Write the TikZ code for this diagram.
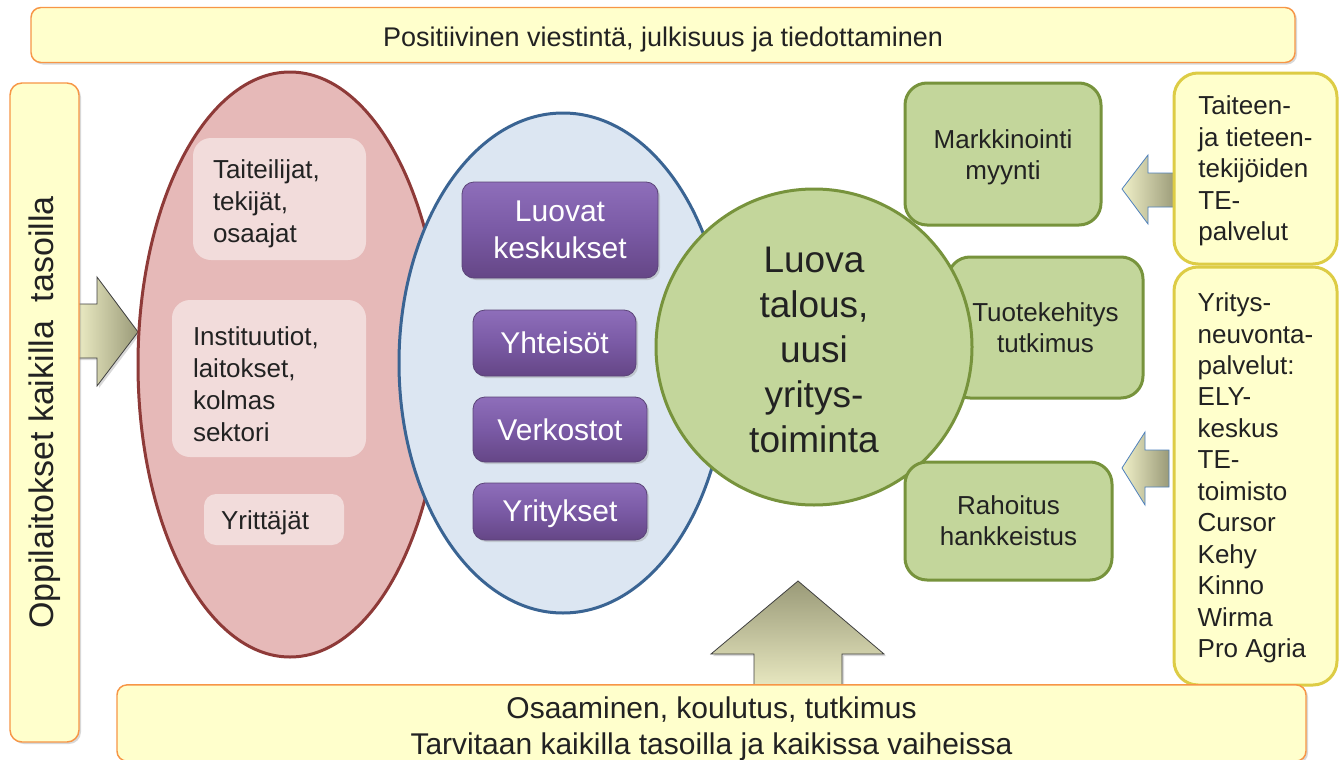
\documentclass[tikz,border=0pt]{standalone}
\usepackage{fontspec}
\setmainfont{Liberation Sans}
\usetikzlibrary{shadows,shapes.geometric}
\definecolor{banfill}{HTML}{FFFFCC}
\definecolor{banedge}{HTML}{F79646}
\definecolor{yedge}{HTML}{DDCC45}
\definecolor{redfill}{HTML}{E6B9B8}
\definecolor{rededge}{HTML}{8E3A38}
\definecolor{pinkfill}{HTML}{F2DCDB}
\definecolor{bluefill}{HTML}{DCE6F2}
\definecolor{blueedge}{HTML}{3A6493}
\definecolor{grfill}{HTML}{C3D69B}
\definecolor{gredge}{HTML}{77933C}
\definecolor{purtop}{HTML}{8E6EBA}
\definecolor{purmid}{HTML}{7A5AA5}
\definecolor{purbot}{HTML}{654686}
\definecolor{puredge}{HTML}{5B4478}
\definecolor{arrlight}{HTML}{F0F0C8}
\definecolor{arrdark}{HTML}{9A9A78}
\definecolor{txt}{HTML}{222222}
\definecolor{arrblue}{HTML}{4F81BD}
\newcommand{\dnstrut}[1]{\rule{0pt}{#1}}
\begin{document}
\begin{tikzpicture}[x=0.75pt,y=-0.75pt,
  shad/.style={drop shadow={shadow xshift=1.5pt,shadow yshift=-1.5pt,opacity=0.3}},
  banner/.style={draw=banedge, line width=1.1pt, fill=banfill, rounded corners=7.5pt, text=txt, shad, inner sep=0pt, align=center},
  pinkbox/.style={fill=pinkfill, rounded corners=13.5pt, text=txt, align=left, font=\fontsize{19.5pt}{24pt}\selectfont, inner ysep=0pt},
  purbox/.style={draw=puredge, line width=0.6pt, top color=purtop, bottom color=purbot, middle color=purmid, rounded corners=9pt, text=white, align=center, font=\fontsize{22.5pt}{27.75pt}\selectfont, shad, inner sep=0pt},
  grbox/.style={draw=gredge, line width=2.25pt, fill=grfill, rounded corners=16.5pt, text=txt, align=center, font=\fontsize{19.5pt}{23.25pt}\selectfont, inner sep=0pt},
  ybox/.style={draw=yedge, line width=2.25pt, fill=banfill, rounded corners=18pt, text=txt, align=left, font=\fontsize{19.5pt}{23.6pt}\selectfont, inner sep=0pt, minimum width=122.25pt},
  blockarrow/.style={shad, line width=0.6pt, draw=black!75},
  sidearrow/.style={line width=0.6pt, draw=arrblue, left color=arrlight, right color=arrdark}
]
\useasboundingbox (0,0) rectangle (1339,760);
\fill[white] (0,0) rectangle (1339,760);

% top banner
\node[banner, minimum width=948pt, minimum height=41.25pt, font=\fontsize{20.25pt}{24pt}\selectfont] (top) at (663,35) {\dnstrut{21pt}Positiivinen viestintä, julkisuus ja tiedottaminen};

% arrow from left banner
\shadedraw[blockarrow, left color=arrlight, right color=arrdark] (74,304) -- (97,304) -- (97,277) -- (138,332) -- (97,386) -- (97,358) -- (74,358) -- cycle;

% left banner
\node[banner, rotate=90, minimum width=494.25pt, minimum height=51.75pt, rounded corners=9pt, font=\fontsize{25.5pt}{30pt}\selectfont] (left) at (44.5,412.5) {Oppilaitokset kaikilla~ tasoilla};

% red ellipse
\node[ellipse, draw=rededge, line width=2.25pt, fill=redfill, minimum width=228pt, minimum height=438.75pt, inner sep=0pt] (red) at (290,364.5) {};
\node[pinkbox, text width=99.75pt, inner xsep=15pt, minimum height=91.5pt] (p1) at (279.5,199) {\dnstrut{22pt}Taiteilijat,\\tekijät,\\osaajat};
\node[pinkbox, text width=114pt, inner xsep=15.75pt, minimum height=117.75pt] (p2) at (269,378.5) {\dnstrut{22pt}Instituutiot,\\laitokset,\\kolmas\\sektori};
\node[pinkbox, text width=79.5pt, inner xsep=12.75pt, minimum height=38.25pt, rounded corners=9pt] (p3) at (274,519.5) {\dnstrut{19pt}Yrittäjät};

% blue ellipse
\node[ellipse, draw=blueedge, line width=2.25pt, fill=bluefill, minimum width=246pt, minimum height=375pt, inner sep=0pt] (blue) at (563,363) {};
\node[purbox, minimum width=147pt, minimum height=72pt] (u1) at (560,230) {Luovat\\keskukset};
\node[purbox, minimum width=122.25pt, minimum height=49.5pt] (u2) at (554.5,343) {Yhteisöt};
\node[purbox, minimum width=130.5pt, minimum height=48.75pt] (u3) at (560,429.5) {Verkostot};
\node[purbox, minimum width=130.5pt, minimum height=42.75pt] (u4) at (560,511.5) {\dnstrut{19pt}Yritykset};

% green boxes and circle
\node[grbox, minimum width=146.25pt, minimum height=105.75pt] (g2) at (1045.5,327.5) {Tuotekehitys\\tutkimus};
\node[circle, draw=gredge, line width=2.25pt, fill=grfill, minimum size=237pt, inner sep=0pt, text=txt, align=center, font=\fontsize{27.75pt}{33.75pt}\selectfont] (luova) at (814,347) {\dnstrut{23pt}Luova\\talous,\\uusi\\yritys-\\toiminta};
\node[grbox, minimum width=147pt, minimum height=106.5pt] (g1) at (1003,154) {\dnstrut{19pt}Markkinointi\\myynti};
\node[grbox, minimum width=155.25pt, minimum height=88.5pt] (g3) at (1008.5,521) {Rahoitus\\hankkeistus};

% side arrows
\shadedraw[sidearrow] (1176,173) -- (1148,173) -- (1148,155) -- (1122,189) -- (1148,224) -- (1148,207) -- (1176,207) -- cycle;
\shadedraw[sidearrow] (1169,450) -- (1145,450) -- (1145,432) -- (1122,468) -- (1145,505) -- (1145,487) -- (1169,487) -- cycle;

% yellow boxes
\node[ybox, minimum height=143.25pt] (y1) at (1255.5,168.5) {\dnstrut{18pt}Taiteen-\\ja tieteen-\\tekijöiden\\TE-\\palvelut};
\node[ybox, minimum height=313.5pt] (y2) at (1255.5,476) {\dnstrut{17pt}Yritys-\\neuvonta-\\palvelut:\\ELY-\\keskus\\TE-\\toimisto\\Cursor\\Kehy\\Kinno\\Wirma\\Pro Agria};

% up arrow
\shadedraw[blockarrow, top color=arrdark, bottom color=arrlight] (754,698) -- (754,654) -- (711,654) -- (798,581) -- (884,654) -- (842,654) -- (842,698) -- cycle;

% bottom banner
\node[banner, minimum width=891.75pt, minimum height=52.5pt, font=\fontsize{22.5pt}{27pt}\selectfont] (bottom) at (711.5,723) {\dnstrut{25.5pt}Osaaminen, koulutus, tutkimus\\Tarvitaan kaikilla tasoilla ja kaikissa vaiheissa};
\end{tikzpicture}
\end{document}
